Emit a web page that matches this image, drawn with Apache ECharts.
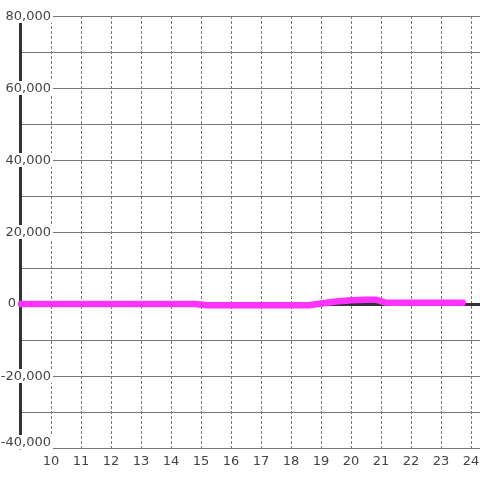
<!DOCTYPE html>
<html>
<head>
<meta charset="utf-8">
<script src="https://cdn.jsdelivr.net/npm/echarts@6/dist/echarts.min.js"></script>
<style>
  html, body { margin: 0; padding: 0; background: #fff; }
  #chart { width: 480px; height: 480px; }
</style>
</head>
<body>
<div id="chart"></div>
<script>
// x ticks shown under the plot
const xTicks = [10, 11, 12, 13, 14, 15, 16, 17, 18, 19, 20, 21, 22, 23, 24];
// y labels every 20000, grid lines every 10000
const yMin = -40000, yMax = 80000;
// magenta line
const lineX = [9, 14.8, 15.2, 18.6, 19.0, 19.5, 20.0, 20.5, 20.85, 21.15, 21.4, 23.72];
const lineY = [0, 0, -350, -350, 150, 700, 1050, 1200, 1150, 400, 330, 330];

let myChart = echarts.init(document.getElementById("chart"));

let fmt = function (value) {
  let s = Math.abs(value).toString().replace(/\B(?=(\d{3})+(?!\d))/g, ",");
  if (value < 0) s = "-" + s;
  if (value === 0) return "{z|0}";
  if (value === yMin) return "{b|" + s + "}\n{s| }";
  return "{b|" + s + "}";
};

let labelFont = {
  fontFamily: "DejaVu Sans",
  fontSize: 13,
  color: "#444",
};

let option = {
  animation: false,
  grid: { left: 20, right: 0, top: 16, bottom: 32, containLabel: false, outerBoundsMode: "none" },
  xAxis: [
    {
      type: "value",
      position: "bottom",
      min: 8.967,
      max: 24.3,
      axisLine: { show: false, onZero: false },
      axisTick: { show: false, customValues: xTicks },
      axisLabel: Object.assign({ customValues: xTicks, margin: 7 }, labelFont),
      splitLine: {
        show: true,
        lineStyle: { color: "#777", width: 1, type: [3, 2] },
      },
    },
    {
      // zero line
      type: "value",
      position: "top",
      min: 8.967,
      max: 24.3,
      z: 1,
      axisLine: { show: true, onZero: true, onZeroAxisIndex: 0, lineStyle: { color: "#333", width: 3 } },
      axisTick: { show: false },
      axisLabel: { show: false },
      splitLine: { show: false },
    },
  ],
  yAxis: [
    {
      type: "value",
      min: yMin,
      max: yMax,
      interval: 10000,
      axisLine: { show: false },
      axisTick: { show: false },
      axisLabel: { show: false },
      splitLine: { show: true, lineStyle: { color: "#777", width: 1 } },
    },
    {
      type: "value",
      position: "left",
      min: yMin,
      max: yMax,
      interval: 20000,
      z: 1,
      axisLine: { show: true, onZero: false, lineStyle: { color: "#333", width: 3 } },
      axisTick: { show: false },
      splitLine: { show: false },
      axisLabel: {
        margin: -33,
        formatter: fmt,
        rich: {
          b: Object.assign({ backgroundColor: "#fff", padding: [1, 2, 0, 1], lineHeight: 14 }, labelFont),
          z: Object.assign({ padding: [0, 37, 0, 0], lineHeight: 14 }, labelFont),
          s: { fontSize: 10, lineHeight: 12, height: 12 },
        },
      },
    },
  ],
  series: [
    {
      type: "line",
      xAxisIndex: 0,
      yAxisIndex: 0,
      showSymbol: false,
      symbol: "none",
      z: 3,
      lineStyle: { color: "#ff33ff", width: 6.5, cap: "round", join: "round" },
      data: lineX.map((x, i) => [x, lineY[i]]),
    },
  ],
};

myChart.setOption(option);
</script>
</body>
</html>
